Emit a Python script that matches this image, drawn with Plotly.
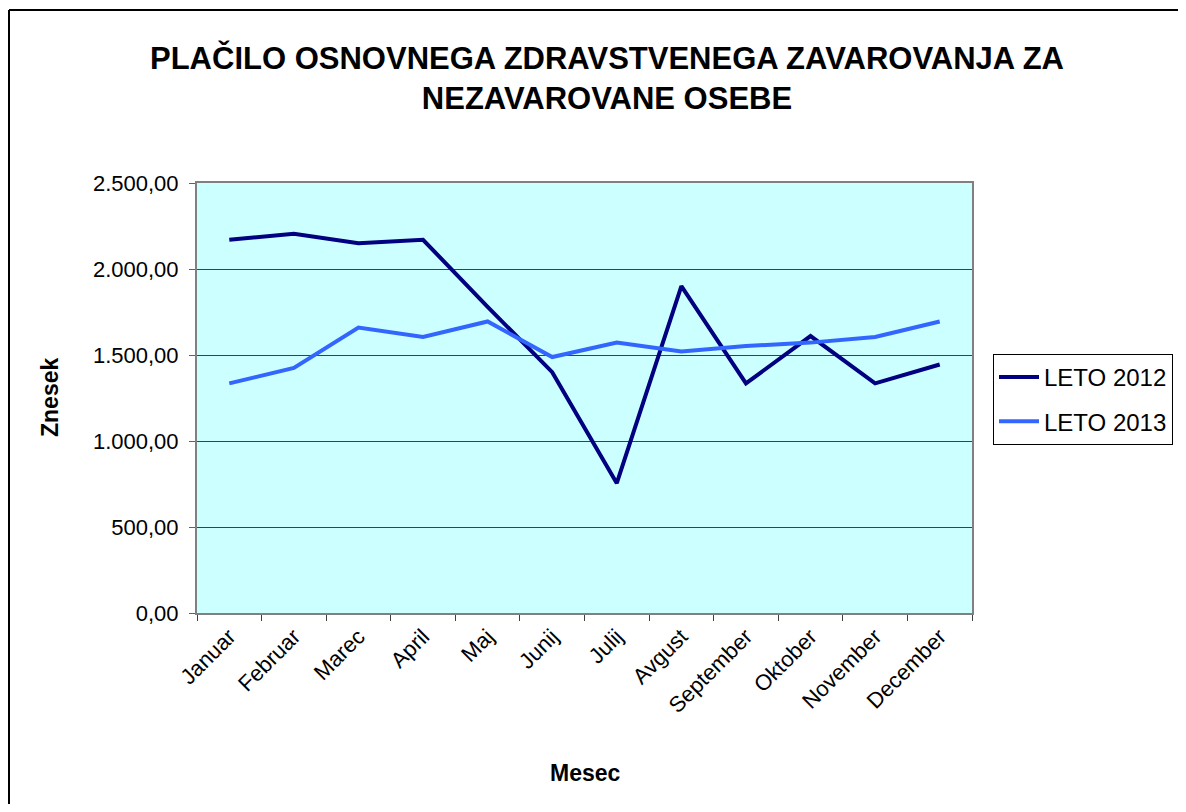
import plotly.graph_objects as go

months = ["Januar", "Februar", "Marec", "April", "Maj", "Junij", "Julij",
          "Avgust", "September", "Oktober", "November", "December"]
leto_2012 = [2170, 2205, 2150, 2170, 1780, 1400, 755, 1900, 1335, 1610, 1335, 1445]
leto_2013 = [1335, 1425, 1660, 1605, 1695, 1488, 1572, 1520, 1552, 1572, 1605, 1695]
y_ticks = [0, 500, 1000, 1500, 2000, 2500]
y_tick_labels = ["0,00", "500,00", "1.000,00", "1.500,00", "2.000,00", "2.500,00"]

FONT = "Liberation Sans, Arial, sans-serif"
OFF = 8  # page body margin

fig = go.Figure()
fig.add_trace(go.Scatter(x=months, y=leto_2012, mode="lines", name="LETO 2012",
                         line=dict(color="#000080", width=4), legendgroup="a"))
fig.add_trace(go.Scatter(x=months, y=leto_2013, mode="lines", name="LETO 2013",
                         line=dict(color="#3366FF", width=4), legendgroup="b"))

W, H = 1178, 796
L, R, T, B = 197 - OFF, 972 - OFF, 183 - OFF, 613 - OFF
pw, ph = R - L, B - T

def px(x):
    return (x - OFF - L) / pw

def py(y):
    return (B - (y - OFF)) / ph

fig.update_layout(
    width=W, height=H,
    margin=dict(l=L, r=W - R, t=T, b=H - B, pad=0),
    paper_bgcolor="white",
    plot_bgcolor="#CCFFFF",
    font=dict(family=FONT, size=22, color="black"),
    title=dict(text="PLAČILO OSNOVNEGA ZDRAVSTVENEGA ZAVAROVANJA ZA<br>NEZAVAROVANE OSEBE",
               x=(607 - OFF) / W, xanchor="center", y=1 - (69 - OFF) / H, yanchor="middle",
               font=dict(family=FONT, size=31, color="black", weight="bold")),
    legend=dict(x=px(993), y=py(354), xanchor="left", yanchor="top",
                bordercolor="black", borderwidth=1, bgcolor="white",
                font=dict(size=24), tracegroupgap=10, traceorder="grouped",
                itemwidth=40),
    xaxis=dict(
        range=[-0.5, 11.5],
        showgrid=False, showline=True, linecolor="#808080", linewidth=2, mirror=True,
        ticks="outside", ticklen=6, tickcolor="#404040", tickangle=-45,
        tickson="boundaries",
        tickfont=dict(size=22),
    ),
    yaxis=dict(
        range=[0, 2500], tickvals=y_ticks, ticktext=y_tick_labels,
        showgrid=True, gridcolor="#404040", gridwidth=1,
        showline=True, linecolor="#808080", linewidth=2, mirror=True,
        ticks="outside", ticklen=6, tickcolor="#606060",
        zeroline=False, ticklabelstandoff=6,
        tickfont=dict(size=22),
    ),
    annotations=[
        dict(text="<b>Mesec</b>", xref="paper", yref="paper", x=px(585), y=py(773),
             xanchor="center", yanchor="middle", showarrow=False, font=dict(size=23)),
        dict(text="<b>Znesek</b>", xref="paper", yref="paper", x=px(50), y=py(398),
             xanchor="center", yanchor="middle", showarrow=False, textangle=-90,
             font=dict(size=23)),
    ],
    shapes=[
        dict(type="line", xref="paper", yref="paper", x0=px(9), x1=px(1200),
             y0=py(10), y1=py(10), line=dict(color="black", width=2)),
        dict(type="line", xref="paper", yref="paper", x0=px(9), x1=px(9),
             y0=py(10), y1=py(830), line=dict(color="black", width=2)),
    ],
)

fig.write_html("out.html")
